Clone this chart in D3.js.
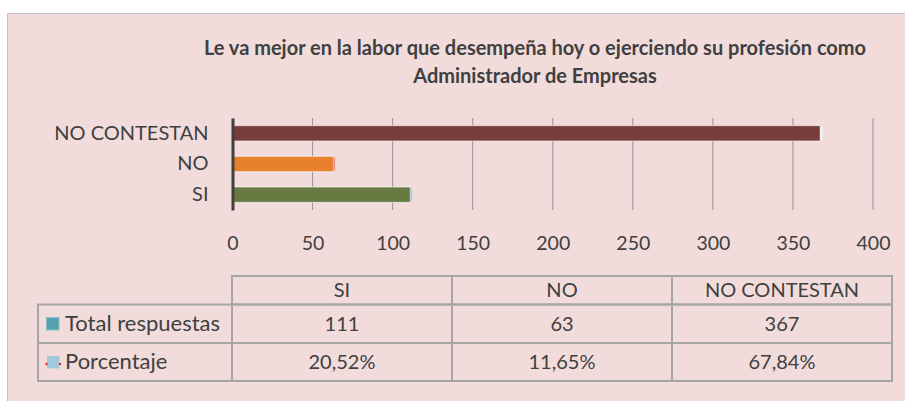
<!DOCTYPE html>
<html>
<head>
<meta charset="utf-8">
<script src="https://cdn.jsdelivr.net/npm/d3@7"></script>
<style>
  body { margin: 0; background: #fff; }
  text { font-family: Lato, "Open Sans", sans-serif; fill: #404040; }
</style>
</head>
<body>
<div class="chart"></div>
<script>
// data
var categories = ["SI", "NO", "NO CONTESTAN"];
var totals = [111, 63, 367];
var percents = [20.52, 11.65, 67.84];
var percentLabels = ["20,52%", "11,65%", "67,84%"];
var barColors = ["#687a42", "#e8802b", "#773d3c"];
var sliverColors = ["#a9cbe3", "#e98a9a", "#f4f0f4"];
var xTicks = [0, 50, 100, 150, 200, 250, 300, 350, 400];
var seriesNames = ["Total respuestas", "Porcentaje"];
var titleLines = ["Le va mejor en la labor que desempeña hoy o ejerciendo su profesión como",
                  "Administrador de Empresas"];

var W = 905, H = 401;
var svg = d3.select(".chart").append("svg")
    .attr("width", W).attr("height", H);

// chart area background
svg.append("rect")
    .attr("x", 7.5).attr("y", 13.5)
    .attr("width", W).attr("height", H)
    .attr("fill", "#f2dcdb")
    .attr("stroke", "#c4c4c4");

// title
svg.append("g").selectAll("text")
    .data(titleLines)
    .enter().append("text")
    .attr("x", 535)
    .attr("y", function(d, i) { return 55 + i * 28; })
    .attr("text-anchor", "middle")
    .style("font-weight", "bold")
    .style("font-size", "20px")
    .text(function(d) { return d; });

// scales
var x = d3.scaleLinear().domain([0, 400]).range([232.5, 873]);
var y = d3.scaleBand()
    .domain(categories.slice().reverse())
    .range([118, 210])
    .paddingInner(0.5)
    .paddingOuter(0.25);

// value axis labels
var xAxis = d3.axisBottom(x)
    .tickValues(xTicks)
    .tickSize(0)
    .tickPadding(0);
var gx = svg.append("g")
    .attr("transform", "translate(0,250)")
    .call(xAxis);
gx.select(".domain").remove();
gx.selectAll("text")
    .attr("dy", 0)
    .style("font-size", "19.5px")
    .style("font-family", "Lato, sans-serif")
    .attr("fill", "#404040");

// grid lines
svg.append("g").selectAll("line")
    .data(xTicks.slice(1))
    .enter().append("line")
    .attr("x1", function(d) { return x(d); })
    .attr("x2", function(d) { return x(d); })
    .attr("y1", 118).attr("y2", 210)
    .attr("stroke", "#a09090")
    .attr("stroke-width", 1);

// bars (Total respuestas)
var data = categories.map(function(c, i) {
    return {cat: c, total: totals[i], pct: percents[i], color: barColors[i], sliver: sliverColors[i]};
});
svg.append("g").selectAll("rect")
    .data(data)
    .enter().append("rect")
    .attr("x", x(0))
    .attr("y", function(d) { return y(d.cat); })
    .attr("width", function(d) { return x(d.total) - x(0); })
    .attr("height", y.bandwidth())
    .attr("fill", function(d) { return d.color; })
    .attr("stroke", "rgba(255,255,255,0.6)")
    .attr("stroke-width", 1);

// Porcentaje series, stacked on the end (tiny slivers)
svg.append("g").selectAll("rect")
    .data(data)
    .enter().append("rect")
    .attr("x", function(d) { return x(d.total); })
    .attr("y", function(d) { return y(d.cat) + 1; })
    .attr("width", function(d) { return x(d.total + d.pct / 100) - x(d.total) + 1.5; })
    .attr("height", y.bandwidth() - 2)
    .attr("fill", function(d) { return d.sliver; })
    .attr("stroke", "none");

// category axis
var yAxis = d3.axisLeft(y).tickSize(0).tickPadding(24);
var gy = svg.append("g")
    .attr("transform", "translate(" + x(0) + ",0)")
    .call(yAxis);
gy.select(".domain")
    .attr("stroke", "#404040")
    .attr("stroke-width", 3);
gy.selectAll("text")
    .style("font-size", "20px")
    .style("font-family", "Lato, sans-serif")
    .attr("fill", "#404040");

// data table
var colX = d3.scaleBand().domain(categories).range([232, 892]);
var tableLeft = 38;
var rowY = [276, 304.5, 343, 381];
var grid = svg.append("g")
    .attr("stroke", "#a6a6a6")
    .attr("stroke-width", 2)
    .attr("fill", "none");
// header row
grid.append("rect")
    .attr("x", colX.range()[0]).attr("y", rowY[0])
    .attr("width", colX.range()[1] - colX.range()[0])
    .attr("height", rowY[1] - rowY[0]);
// body rows
grid.append("rect")
    .attr("x", tableLeft).attr("y", rowY[1])
    .attr("width", colX.range()[1] - tableLeft)
    .attr("height", rowY[3] - rowY[1]);
grid.append("line")
    .attr("x1", tableLeft).attr("x2", colX.range()[1])
    .attr("y1", rowY[2]).attr("y2", rowY[2]);
grid.selectAll(".vline")
    .data(categories)
    .enter().append("line")
    .attr("x1", function(d) { return colX(d); })
    .attr("x2", function(d) { return colX(d); })
    .attr("y1", rowY[0])
    .attr("y2", rowY[3]);

function rowText(values, r) {
    svg.append("g").selectAll("text")
        .data(values)
        .enter().append("text")
        .attr("x", function(d, i) { return colX(categories[i]) + colX.bandwidth() / 2; })
        .attr("y", (rowY[r] + rowY[r + 1]) / 2 + 7)
        .attr("text-anchor", "middle")
        .style("font-size", "20px")
        .text(function(d) { return d; });
}
rowText(categories, 0);
rowText(totals, 1);
rowText(percentLabels, 2);

// row headers with legend keys
svg.append("rect")
    .attr("x", 46.5).attr("y", 317.5)
    .attr("width", 12.5).attr("height", 12.5)
    .attr("fill", "#56a0b0")
    .attr("stroke", "#8cc0cc").attr("stroke-width", 1);
svg.append("rect")
    .attr("x", 47).attr("y", 356)
    .attr("width", 12.5).attr("height", 12.5)
    .attr("fill", "#a3cadb");
svg.selectAll(".dot")
    .data([46.5, 60])
    .enter().append("circle")
    .attr("cx", function(d) { return d; })
    .attr("cy", 364)
    .attr("r", 1.2)
    .attr("fill", "#e8282a");

svg.append("g").selectAll("text")
    .data(seriesNames)
    .enter().append("text")
    .attr("x", 65)
    .attr("y", function(d, i) { return (rowY[i + 1] + rowY[i + 2]) / 2 + 7; })
    .style("font-size", "22px")
    .text(function(d) { return d; });
</script>
</body>
</html>
